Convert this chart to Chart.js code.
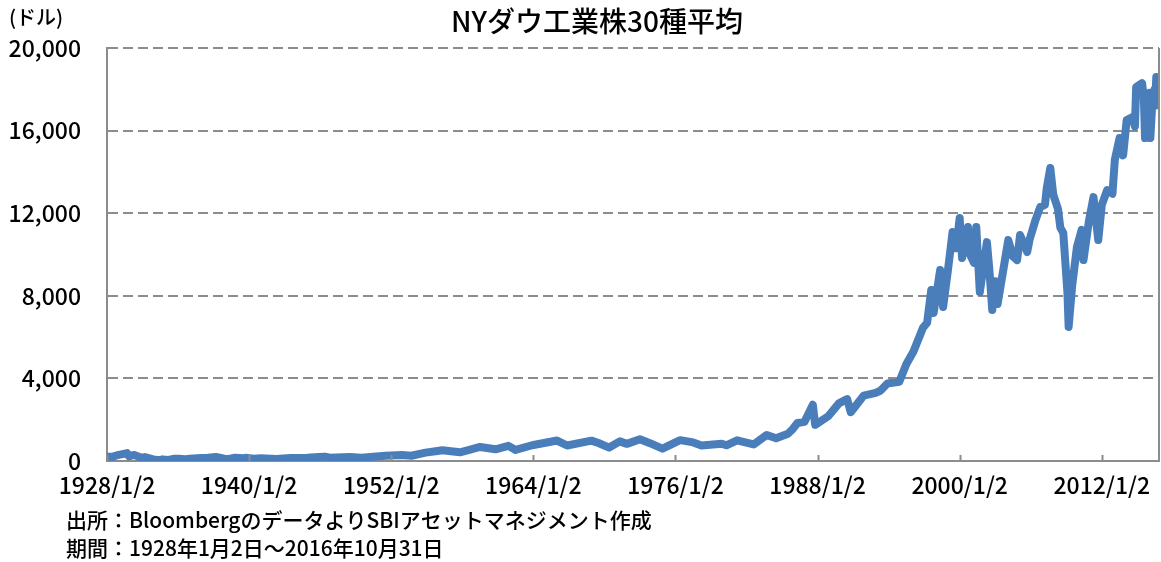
<!DOCTYPE html>
<html>
<head>
<meta charset="utf-8">
<script src="https://cdn.jsdelivr.net/npm/chart.js@4/dist/chart.umd.min.js"></script>
<style>
  html, body { margin:0; padding:0; background:#fff; }
  #wrap { position:relative; width:1161px; height:562px; }
</style>
</head>
<body>
<div id="wrap"><canvas id="chart" width="1161" height="562"></canvas></div>
<script>
// ================= DATA =================
const chartTitle = "NYダウ工業株30種平均";
const unitLabel = "(ドル)";
const sourceNote = "出所：BloombergのデータよりSBIアセットマネジメント作成";
const periodNote = "期間：1928年1月2日～2016年10月31日";

const xTickYears  = [1928, 1940, 1952, 1964, 1976, 1988, 2000, 2012];
const xTickLabels = ["1928/1/2","1940/1/2","1952/1/2","1964/1/2","1976/1/2","1988/1/2","2000/1/2","2012/1/2"];
const yTicks = [0, 4000, 8000, 12000, 16000, 20000];

// decimal year / closing level
const years = [
  1928.0,1928.5,1929.0,1929.7,1929.85,1930.3,1930.9,1931.2,1931.9,1932.5,1932.7,1933.2,1933.6,
  1934.1,1934.6,1935.0,1935.9,1936.5,1937.2,1937.9,1938.3,1938.8,1939.5,1939.7,1940.4,1941.0,
  1942.3,1943.5,1944.9,1945.9,1946.4,1946.8,1948.5,1949.5,1950.5,1951.5,1952.9,1953.7,1954.9,
  1955.9,1956.3,1957.8,1958.9,1959.5,1960.8,1961.9,1962.5,1963.9,1964.9,1966.0,1966.85,1968.9,
  1969.5,1970.4,1971.3,1971.9,1973.0,1973.9,1974.9,1976.4,1977.5,1978.2,1979.9,1980.3,1981.2,
  1982.6,1983.7,1984.5,1985.5,1985.9,1986.3,1986.9,1987.6,1987.8,1988.9,1989.8,1990.5,1990.8,
  1991.9,1992.9,1993.3,1993.9,1994.9,1995.5,1996.1,1996.9,1997.25,1997.6,1997.8,1998.35,1998.6,
  1999.0,1999.4,1999.7,2000.0,2000.2,2000.7,2000.9,2001.2,2001.4,2001.7,2002.3,2002.5,2002.75,
  2003.0,2003.2,2003.9,2004.1,2004.5,2004.85,2005.1,2005.7,2005.9,2006.4,2006.8,2007.2,2007.35,
  2007.65,2007.9,2008.3,2008.5,2008.75,2009.1,2009.2,2009.5,2009.9,2010.3,2010.45,2010.9,2011.3,
  2011.7,2012.0,2012.45,2012.9,2013.1,2013.5,2013.8,2014.1,2014.6,2014.8,2014.9,2015.4,2015.55,
  2015.65,2015.8,2016.0,2016.1,2016.3,2016.45,2016.5,2016.6,2016.83
];
const closes = [
  200,210,300,381,230,294,160,190,75,41,79,55,105,
  110,85,105,145,160,194,115,99,155,130,155,112,130,
  93,145,152,195,212,163,193,162,209,250,292,255,404,
  488,521,420,583,680,566,734,535,762,874,990,750,985,
  870,650,950,830,1050,850,600,1010,900,750,838,759,1000,
  800,1260,1100,1320,1546,1840,1895,2722,1750,2168,2791,2999,2365,
  3168,3301,3400,3754,3834,4700,5300,6448,6700,8280,7170,9250,7460,
  9200,11090,10300,11770,9830,11330,9970,9600,11330,8180,10600,9300,7310,
  8700,7600,10000,10700,9900,9730,10940,10120,10718,11670,12300,12400,13200,
  14190,12900,12200,11300,11040,8140,6490,8500,10360,11190,9730,11577,12780,
  10700,12400,13120,12938,14580,15640,14800,16510,16660,16200,18110,18300,17600,
  15640,17700,17820,15640,17700,18000,17200,18600,18150
];

// ================= CHART =================
const fontJP = "'Noto Sans CJK JP', 'Noto Sans', sans-serif";
const gridGray = "#8c8c8c";

const framePlugin = {
  id: "frame",
  afterDraw(chart) {
    const { ctx, chartArea: a, scales } = chart;
    ctx.save();
    // solid right border
    ctx.strokeStyle = gridGray;
    ctx.lineWidth = 2;
    ctx.beginPath();
    ctx.moveTo(a.right, a.top);
    ctx.lineTo(a.right, a.bottom);
    ctx.stroke();
    // inner tick marks at the labelled years
    ctx.beginPath();
    xTickYears.forEach(y => {
      const px = Math.round(scales.x.getPixelForValue(y)) + 0.5;
      ctx.moveTo(px, a.bottom);
      ctx.lineTo(px, a.bottom - 6);
    });
    ctx.stroke();
    // texts
    ctx.fillStyle = "#000";
    ctx.textBaseline = "middle";
    ctx.textAlign = "center";
    ctx.font = "500 28px " + fontJP;
    ctx.fillText(chartTitle, 597, 21);
    ctx.textAlign = "left";
    ctx.font = "500 20px " + fontJP;
    ctx.fillText(unitLabel, 9, 17);
    ctx.font = "500 21px " + fontJP;
    ctx.fillText(sourceNote, 66, 520);
    ctx.fillText(periodNote, 66, 548);
    ctx.restore();
  }
};

const ctx = document.getElementById("chart").getContext("2d");

new Chart(ctx, {
  type: "line",
  data: {
    datasets: [{
      data: years.map((y, i) => ({ x: y, y: closes[i] })),
      borderColor: "#4a7ebb",
      borderWidth: 8,
      pointRadius: 0,
      tension: 0,
      borderJoinStyle: "round",
      borderCapStyle: "round"
    }]
  },
  options: {
    animation: false,
    responsive: false,
    layout: { padding: { top: 48, right: 2, left: 0, bottom: 0 } },
    plugins: { legend: { display: false }, title: { display: false }, tooltip: { enabled: false } },
    scales: {
      x: {
        type: "linear",
        min: 1928,
        max: 2016.83,
        afterBuildTicks: s => { s.ticks = xTickYears.map(v => ({ value: v })); },
        afterFit: s => { s.height = 101; },
        ticks: {
          autoSkip: false,
          maxRotation: 0,
          color: "#000",
          padding: 10,
          font: { family: fontJP, size: 23, weight: "500" },
          callback: v => xTickLabels[xTickYears.indexOf(v)]
        },
        grid: { display: false, drawTicks: false },
        border: { display: true, color: gridGray, width: 2 }
      },
      y: {
        min: 0,
        max: 20000,
        afterBuildTicks: s => { s.ticks = yTicks.map(v => ({ value: v })); },
        afterFit: s => { s.width = 107; },
        ticks: {
          color: "#000",
          padding: 26,
          font: { family: fontJP, size: 23, weight: "500" },
          callback: v => v.toLocaleString("en-US")
        },
        grid: {
          drawTicks: false,
          color: ctx => ctx.tick.value === 0 ? "rgba(0,0,0,0)" : gridGray,
          lineWidth: 2
        },
        border: { display: true, color: gridGray, width: 2, dash: [10, 5] }
      }
    }
  },
  plugins: [framePlugin]
});
</script>
</body>
</html>
